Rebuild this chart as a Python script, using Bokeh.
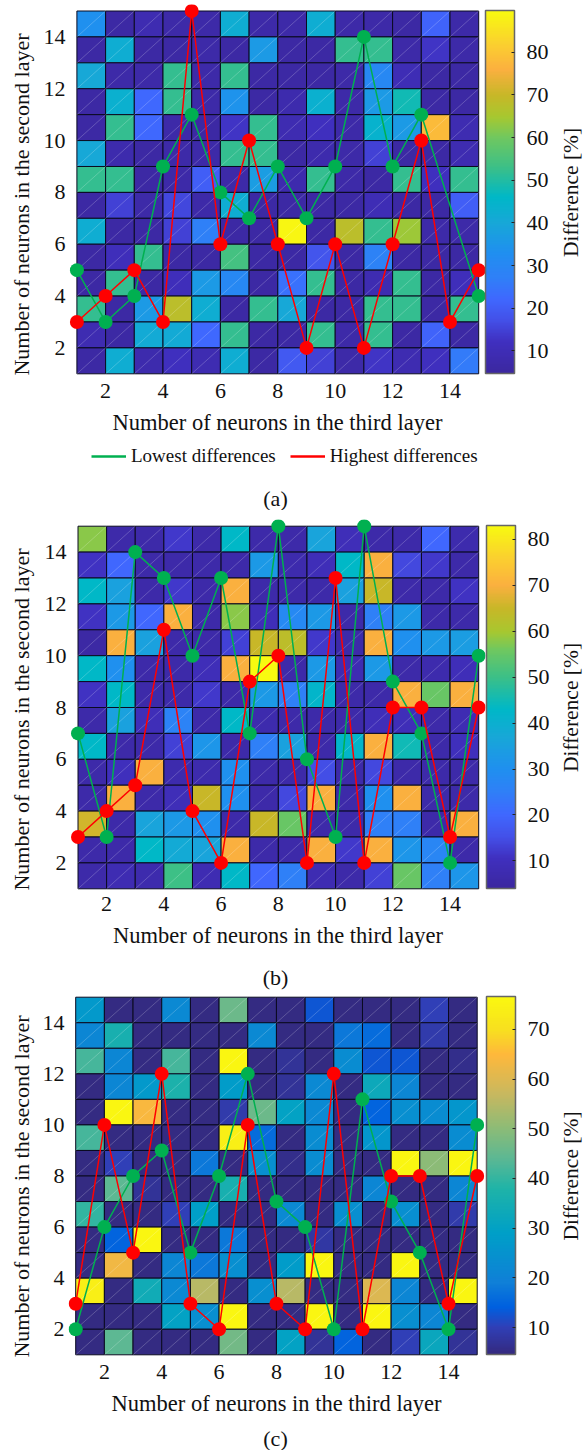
import math
import numpy as np
from bokeh.plotting import figure
from bokeh.layouts import column
from bokeh.models import (LinearColorMapper, ColorBar, FixedTicker, Label, Legend, LegendItem,
                          ColumnDataSource)
from bokeh.embed import file_html
from bokeh.resources import INLINE

neuron_ticks = [2, 4, 6, 8, 10, 12, 14]
bar_ticks = [10, 20, 30, 40, 50, 60, 70, 80]
x_label = "Number of neurons in the third layer"
y_label = "Number of neurons in the second layer"
bar_label = "Difference [%]"
low_name = "Lowest differences"
high_name = "Highest differences"

# rows from the top row (second layer 14-15) to the bottom row (1-2); columns third layer 1..14
diff_a = [
    [33, 6, 9, 7, 7, 42, 7, 7, 42, 7, 7, 6, 21, 7],
    [6, 42, 6, 6, 7, 6, 36, 6, 6, 52, 52, 7, 13, 7],
    [40, 7, 7, 52, 7, 52, 6, 6, 6, 7, 30, 10, 6, 6],
    [6, 43, 22, 52, 7, 34, 6, 8, 43, 7, 36, 48, 6, 6],
    [6, 52, 22, 7, 6, 13, 52, 9, 12, 7, 44, 36, 78, 9],
    [40, 8, 6, 7, 7, 52, 52, 6, 8, 7, 15, 6, 6, 9],
    [52, 52, 6, 7, 20, 7, 37, 8, 52, 7, 6, 52, 12, 52],
    [6, 15, 7, 16, 7, 42, 6, 6, 6, 6, 10, 6, 6, 20],
    [42, 6, 6, 15, 27, 6, 6, 89, 6, 68, 52, 64, 7, 7],
    [6, 11, 52, 6, 6, 54, 6, 6, 18, 6, 28, 6, 6, 6],
    [6, 52, 6, 11, 36, 30, 6, 24, 52, 6, 9, 52, 6, 11],
    [52, 6, 36, 68, 42, 6, 52, 40, 6, 6, 52, 52, 6, 52],
    [9, 6, 41, 41, 22, 52, 6, 6, 52, 7, 52, 6, 21, 6],
    [6, 42, 8, 12, 9, 42, 6, 19, 15, 7, 13, 9, 12, 26],
]
diff_b = [
    [58, 6, 6, 12, 6, 43, 6, 6, 36, 9, 6, 6, 20, 7],
    [11, 20, 6, 6, 6, 6, 33, 7, 9, 43, 70, 14, 12, 6],
    [43, 35, 6, 12, 6, 70, 6, 6, 6, 35, 65, 6, 6, 11],
    [11, 33, 20, 70, 6, 58, 9, 28, 33, 6, 25, 33, 6, 6],
    [5, 70, 35, 6, 6, 13, 65, 63, 12, 6, 70, 30, 33, 34],
    [43, 30, 6, 6, 9, 70, 83, 6, 33, 8, 33, 6, 7, 9],
    [11, 43, 6, 6, 12, 6, 33, 25, 42, 6, 6, 70, 55, 70],
    [6, 35, 9, 26, 6, 43, 7, 6, 6, 6, 9, 9, 6, 8],
    [43, 6, 6, 13, 32, 6, 25, 35, 6, 42, 70, 45, 6, 10],
    [6, 10, 70, 7, 7, 30, 6, 6, 15, 6, 14, 6, 6, 6],
    [6, 70, 6, 9, 65, 30, 6, 14, 70, 6, 30, 70, 6, 6],
    [66, 6, 36, 33, 30, 6, 65, 55, 6, 6, 25, 25, 6, 70],
    [6, 6, 43, 38, 36, 70, 6, 6, 70, 12, 70, 32, 27, 6],
    [6, 8, 7, 50, 8, 43, 20, 25, 8, 6, 13, 55, 25, 32],
]
diff_c = [
    [27, 5, 5, 22, 5, 46, 5, 5, 13, 5, 5, 5, 10, 5],
    [21, 36, 5, 5, 5, 5, 22, 5, 5, 18, 16, 5, 9, 5],
    [42, 21, 5, 42, 5, 76, 5, 7, 5, 23, 13, 13, 5, 6],
    [5, 21, 27, 37, 5, 28, 5, 7, 22, 5, 33, 21, 5, 5],
    [5, 76, 64, 5, 5, 9, 46, 30, 22, 5, 15, 24, 23, 26],
    [42, 5, 5, 5, 5, 74, 16, 5, 23, 5, 26, 5, 5, 23],
    [5, 10, 5, 5, 18, 5, 24, 6, 23, 5, 5, 76, 50, 76],
    [5, 44, 7, 5, 5, 36, 5, 5, 5, 5, 21, 5, 5, 21],
    [40, 5, 5, 10, 29, 5, 5, 22, 5, 24, 5, 24, 5, 9],
    [5, 15, 76, 5, 5, 18, 5, 5, 8, 5, 5, 5, 5, 5],
    [5, 63, 5, 21, 18, 24, 5, 28, 76, 5, 5, 76, 5, 5],
    [74, 5, 34, 22, 55, 5, 24, 55, 5, 5, 60, 21, 5, 76],
    [5, 5, 5, 30, 24, 76, 5, 5, 76, 5, 76, 24, 21, 5],
    [5, 44, 5, 5, 5, 47, 5, 30, 7, 15, 5, 10, 32, 7],
]

low_x_a = [1, 2, 3, 4, 5, 6, 7, 8, 9, 10, 11, 12, 13, 15]
low_y_a = [5, 3, 4, 9, 11, 8, 7, 9, 7, 9, 14, 9, 11, 4]
high_x_a = [1, 2, 3, 4, 5, 6, 7, 8, 9, 10, 11, 12, 13, 14, 15]
high_y_a = [3, 4, 5, 3, 15, 6, 10, 6, 2, 6, 2, 6, 10, 3, 5]

low_x_b = [1, 2, 3, 4, 5, 6, 7, 8, 9, 10, 11, 12, 13, 14, 15]
low_y_b = [7, 3, 14, 13, 10, 13, 7, 15, 6, 3, 15, 9, 7, 2, 10]
high_x_b = [1, 2, 3, 4, 5, 6, 7, 8, 9, 10, 11, 12, 13, 14, 15]
high_y_b = [3, 4, 5, 11, 4, 2, 9, 10, 2, 13, 2, 8, 8, 3, 8]

low_x_c = [1, 2, 3, 4, 5, 6, 7, 8, 9, 10, 11, 12, 13, 14, 15]
low_y_c = [2, 6, 8, 9, 5, 8, 12, 7, 6, 2, 11, 7, 5, 2, 10]
high_x_c = [1, 2, 3, 4, 5, 6, 7, 8, 9, 10, 11, 12, 13, 14, 15]
high_y_c = [3, 10, 5, 12, 3, 2, 10, 3, 2, 12, 2, 8, 8, 3, 8]

# colour maps: (value, colour)
stops_a = [(4.7, "#3c28a0"), (12, "#4030c0"), (17, "#4450e8"), (22, "#4068ff"), (27, "#3080f8"),
           (33, "#2090f0"), (40, "#18a8d8"), (46, "#00b8c8"), (53, "#3cc088"), (60, "#70c860"),
           (65, "#a8c830"), (70, "#c8b828"), (76, "#fbb040"), (82, "#fbd030"), (89.8, "#f8fa10")]
stops_b = [(4.0, "#3c28a0"), (10.5, "#4030c0"), (15, "#4450e8"), (20, "#4068ff"), (25, "#3080f8"),
           (30, "#2090f0"), (37, "#18a8d8"), (43, "#00b8c8"), (50, "#3cc088"), (56, "#70c860"),
           (60, "#a8c830"), (65, "#c8b828"), (70, "#fbb040"), (76, "#fbd030"), (83, "#f8fa10")]
stops_c = [(4.6, "#352a80"), (10, "#3040b8"), (14, "#0060e0"), (19, "#1080d8"), (29, "#00a0c8"),
           (38, "#20b4a8"), (44, "#5cb894"), (50, "#8cbc78"), (57, "#c8b860"), (65, "#ffb83c"),
           (70, "#f8e020"), (76.6, "#fbf910")]


def make_palette(stops):
    vals = [s[0] for s in stops]
    rgb = np.array([[int(s[1][i:i + 2], 16) for i in (1, 3, 5)] for s in stops], float)
    t = np.linspace(vals[0], vals[-1], 256)
    chans = [np.interp(t, vals, rgb[:, k]) for k in range(3)]
    return ["#%02x%02x%02x" % (int(r), int(g), int(b)) for r, g, b in zip(*chans)]


FONT = "Liberation Serif"
INK = "#111111"
GREEN = "#00b050"
RED = "#ff0000"


def panel(diff, stops, low_x, low_y, high_x, high_y, gx0, gx1, gy0, gy1, top, height,
          tick_standoff, bar_x0, ylab_y):
    cw = (gx1 - gx0) / 14
    ch = (gy1 - gy0) / 14
    pad = 7
    left = int(round(gx0 - pad))
    right = int(round(gx1 + pad))
    ftop = int(round(gy0 - pad))
    fbot = int(round(gy1 + pad))
    fw, fh = right - left, fbot - ftop
    ftop_rel = ftop - top
    p = figure(width=584, height=height, frame_width=fw, frame_height=fh, frame_align=False,
               min_border_left=left, min_border_right=584 - right,
               min_border_top=ftop_rel, min_border_bottom=height - ftop_rel - fh,
               x_range=(1 - (gx0 - left) / cw, 15 + (right - gx1) / cw),
               y_range=(1 - (fbot - gy1) / ch, 15 + (gy0 - ftop) / ch),
               toolbar_location=None, output_backend="svg", tools="")
    p.outline_line_color = None
    p.grid.visible = False
    p.background_fill_color = None
    for ax in (p.xaxis[0], p.yaxis[0]):
        ax.ticker = FixedTicker(ticks=neuron_ticks)
        ax.axis_line_color = None
        ax.major_tick_line_color = None
        ax.minor_tick_line_color = None
        ax.major_tick_out = 0
        ax.major_tick_in = 0
        ax.minor_tick_out = 0
        ax.minor_tick_in = 0
        ax.major_label_text_font = FONT
        ax.major_label_text_font_size = "22px"
        ax.major_label_text_color = INK
    ax = p.xaxis[0]
    ax.axis_label = x_label
    ax.axis_label_text_font = FONT
    ax.axis_label_text_font_style = "normal"
    ax.axis_label_text_color = INK
    ax.axis_label_text_font_size = "22.5px"
    ax.major_label_standoff = tick_standoff
    ax.axis_label_standoff = 9
    p.yaxis[0].major_label_standoff = 4

    mapper = LinearColorMapper(palette=make_palette(stops), low=stops[0][0], high=stops[-1][0])
    xs, ys, vs = [], [], []
    for r, row in enumerate(diff):
        for c, v in enumerate(row):
            xs.append(c + 1)
            ys.append(14 - r)
            vs.append(v)
    xs = np.array(xs)
    ys = np.array(ys)
    src = ColumnDataSource(dict(l=xs, r=xs + 1, b=ys, t=ys + 1, v=vs))
    p.quad(left="l", right="r", bottom="b", top="t", source=src,
           fill_color={"field": "v", "transform": mapper},
           line_color="#0a0a20", line_width=1)
    p.segment(x0="l", y0="b", x1="r", y1="t", source=src, line_color="#ffffff",
              line_alpha=0.3, line_width=0.7)

    p.line(low_x, low_y, line_color=GREEN, line_width=1.5)
    p.scatter(low_x, low_y, size=14, fill_color=GREEN, line_color=None)
    p.line(high_x, high_y, line_color=RED, line_width=1.5)
    p.scatter(high_x, high_y, size=14, fill_color=RED, line_color=None)

    cb = ColorBar(color_mapper=mapper, width=29, height=int(round(gy1 - gy0)),
                  location=(bar_x0 - left, fbot - int(round(gy1))), margin=0, padding=0,
                  ticker=FixedTicker(ticks=bar_ticks),
                  major_label_text_font=FONT, major_label_text_font_size="22px",
                  major_label_text_color=INK, label_standoff=12,
                  major_tick_line_color="#222222", major_tick_in=3, minor_tick_line_color=None,
                  bar_line_color="#666666", bar_line_width=1.5,
                  background_fill_color=None, border_line_color=None)
    p.add_layout(cb, "center")

    mid = (gy0 + gy1) / 2
    p.add_layout(Label(x=570 - right, y=fbot - mid, x_units="screen", y_units="screen",
                       text=bar_label, angle=math.pi / 2, text_align="center",
                       text_baseline="middle", text_font=FONT, text_font_size="21.5px",
                       text_color=INK), "right")
    p.add_layout(Label(x=75 - left, y=fbot - ylab_y, x_units="screen", y_units="screen",
                       text=y_label, angle=math.pi / 2, text_align="center",
                       text_baseline="middle", text_font=FONT, text_font_size="22px",
                       text_color=INK), "left")
    return p


def strip(tag, height, tag_y, with_legend=False):
    s = figure(width=584, height=height, frame_width=584, frame_height=height, frame_align=False,
               min_border=0, min_border_left=0, min_border_right=0, min_border_top=0,
               min_border_bottom=0, x_range=(1000, 1584), y_range=(1000, 1000 + height),
               x_axis_type=None, y_axis_type=None, toolbar_location=None,
               output_backend="svg", tools="")
    s.outline_line_color = None
    s.grid.visible = False
    s.add_layout(Label(x=275, y=height - tag_y, x_units="screen", y_units="screen",
                       text=tag, text_align="center", text_baseline="middle",
                       text_font=FONT, text_font_size="22px", text_color=INK))
    if with_legend:
        gl = s.line(low_x_a, low_y_a, line_color=GREEN, line_width=2.5)
        rl = s.line(high_x_a, high_y_a, line_color=RED, line_width=2.5)
        leg = Legend(items=[LegendItem(label=low_name, renderers=[gl]),
                            LegendItem(label=high_name, renderers=[rl])],
                     orientation="horizontal", location=(91, height - 27),
                     background_fill_color=None, border_line_color=None,
                     label_text_font=FONT, label_text_font_size="19px",
                     label_text_color=INK, glyph_width=35, glyph_height=20, label_standoff=5,
                     label_height=20, spacing=14, margin=0, padding=0)
        s.add_layout(leg, "center")
    return s


pa = panel(diff_a, stops_a, low_x_a, low_y_a, high_x_a, high_y_a,
           76.4, 478.2, 10.5, 373.3, 0, 440, 3, 485, 204)
sa = strip("(a)", 70, 58, with_legend=True)
pb = panel(diff_b, stops_b, low_x_b, low_y_b, high_x_b, high_y_b,
           77.5, 478.2, 525.7, 888.3, 510, 440, 1, 486, 719)
sb = strip("(b)", 40, 27)
pc = panel(diff_c, stops_c, low_x_c, low_y_c, high_x_c, high_y_c,
           75.2, 476.7, 996.7, 1354.3, 990, 430, 3, 486, 1186)
sc = strip("(c)", 30, 18)

page = column(pa, sa, pb, sb, pc, sc, spacing=0)
open("out.html", "w").write(file_html(page, INLINE))
